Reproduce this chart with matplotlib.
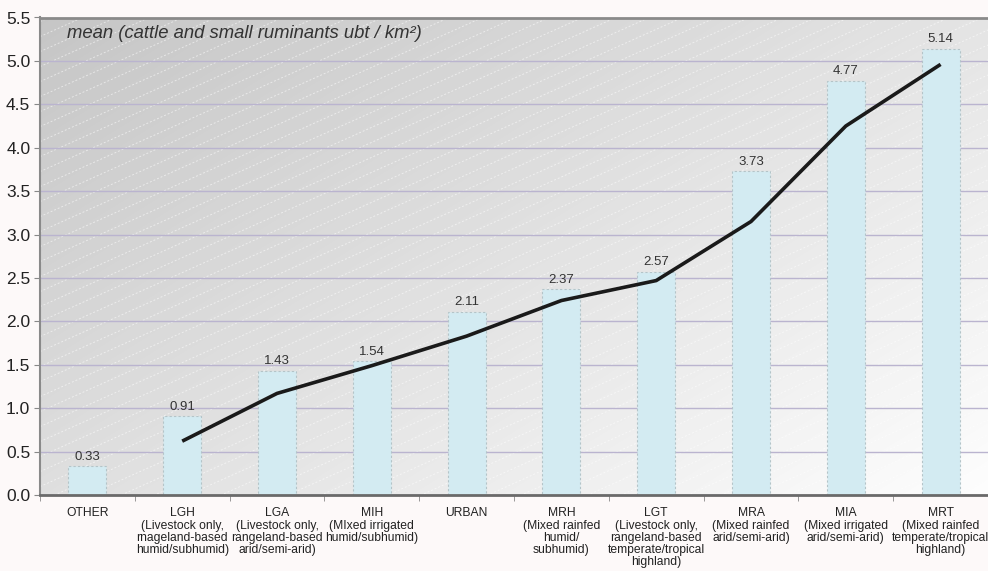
import numpy as np
import matplotlib
matplotlib.use("Agg")
import matplotlib.pyplot as plt
from matplotlib.collections import LineCollection

plt.rcParams['font.family'] = ['Liberation Sans', 'DejaVu Sans']

categories = ["OTHER",
              "LGH\n(Livestock only,\nrnageland-based\nhumid/subhumid)",
              "LGA\n(Livestock only,\nrangeland-based\narid/semi-arid)",
              "MIH\n(MIxed irrigated\nhumid/subhumid)",
              "URBAN",
              "MRH\n(Mixed rainfed\nhumid/\nsubhumid)",
              "LGT\n(Livestock only,\nrangeland-based\ntemperate/tropical\nhighland)",
              "MRA\n(Mixed rainfed\narid/semi-arid)",
              "MIA\n(Mixed irrigated\narid/semi-arid)",
              "MRT\n(Mixed rainfed\ntemperate/tropical\nhighland)"]
values = [0.33, 0.91, 1.43, 1.54, 2.11, 2.37, 2.57, 3.73, 4.77, 5.14]
value_labels = ["0.33", "0.91", "1.43", "1.54", "2.11", "2.37", "2.57", "3.73", "4.77", "5.14"]
# 2-period moving-average trend line (starts at the 2nd category)
trend_x = [1, 2, 3, 4, 5, 6, 7, 8, 9]
trend_y = [0.62, 1.17, 1.49, 1.83, 2.24, 2.47, 3.15, 4.25, 4.96]
y_ticks = [0.0, 0.5, 1.0, 1.5, 2.0, 2.5, 3.0, 3.5, 4.0, 4.5, 5.0, 5.5]
title = "mean (cattle and small ruminants ubt / km²)"

W, H = 988, 571
fig = plt.figure(figsize=(W / 100, H / 100), dpi=100)
fig.patch.set_facecolor('#fdf9f9')

left_px, right_px = 40, 988
top_px, bot_px = 17.5, 495
ax = fig.add_axes([left_px / W, 1 - bot_px / H, (right_px - left_px) / W, (bot_px - top_px) / H])

x = np.arange(len(categories))
xmax = (right_px - left_px) / 95.5 - 0.5
ax.set_xlim(-0.5, xmax)
ax.set_ylim(0, 5.5)

# gradient background (dark top-left -> light bottom-right)
gx, gy = np.meshgrid(np.linspace(0, 1, 300), np.linspace(0, 1, 200))
t = (gx * 0.55 + gy * 0.45)
g = 0.775 + (0.995 - 0.775) * t
img = np.dstack([g, g, g])
ax.imshow(img, extent=[0, 1, 0, 1], transform=ax.transAxes, origin='upper',
          aspect='auto', zorder=0, interpolation='bilinear')

# diagonal hatch lines
aw = right_px - left_px
ah = bot_px - top_px
slope = 0.45
segs = []
for c in np.arange(-aw * slope, ah + 10, 15):
    segs.append([(0, c / ah), (1, (c + aw * slope) / ah)])
lc = LineCollection(segs, transform=ax.transAxes, colors='white', linewidths=0.7,
                    linestyles=(0, (2, 2)), alpha=0.55, zorder=0.5)
ax.add_collection(lc)

ax.set_yticks(y_ticks)
ax.set_yticklabels([f"{v:.1f}" for v in y_ticks], fontsize=12.5, color='#222222')
ax.yaxis.grid(True, color='#bab4cf', linewidth=1.0, zorder=1)
ax.set_axisbelow(True)

ax.bar(x, values, width=0.4, color='#d3ebf2', edgecolor='#b4c4c8', linewidth=0.8,
       linestyle=(0, (2, 2)), zorder=2)
for xi, v, lab in zip(x, values, value_labels):
    ax.text(xi, v + 0.04, lab, ha='center', va='bottom', fontsize=9.5, color='#333333', zorder=4)

ax.plot(trend_x, trend_y, color='#1a1a1a', linewidth=2.6, zorder=3, solid_capstyle='butt')

ax.text(27 / aw, 1 - 15.5 / ah, title, transform=ax.transAxes, fontsize=13.3, style='italic',
        color='#333333', ha='left', va='center')

ax.set_xticks(x)
ax.set_xticklabels(categories, fontsize=8.7, color='#222222', linespacing=1.02, va='top')
ax.tick_params(axis='x', length=0, pad=9)
ax.set_xticks(np.arange(-0.5, 10, 1.0), minor=True)
ax.tick_params(axis='x', which='minor', length=4, color='#888888', direction='out')
ax.tick_params(axis='y', length=4, color='#888888', direction='out', pad=3)

ax.spines['top'].set_color('#8a8a8a')
ax.spines['top'].set_linewidth(2.0)
ax.spines['right'].set_visible(False)
ax.spines['left'].set_color('#8a8a8a')
ax.spines['left'].set_linewidth(1.5)
ax.spines['bottom'].set_color('#6a6a6a')
ax.spines['bottom'].set_linewidth(2.0)

fig.savefig('out.png', dpi=100, facecolor=fig.get_facecolor())
